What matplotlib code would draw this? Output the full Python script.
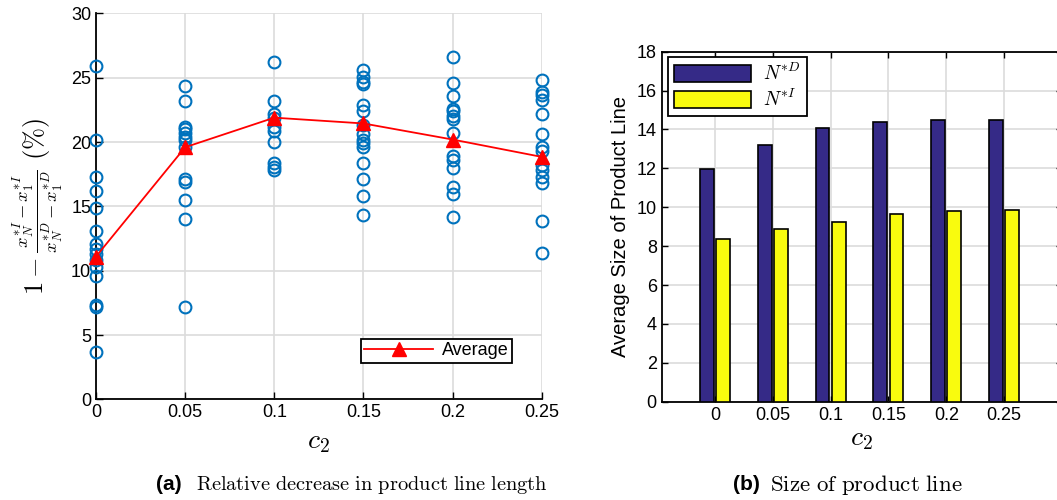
import numpy as np
import matplotlib
matplotlib.use('Agg')
import matplotlib.pyplot as plt

plt.rcParams['font.family'] = ['Liberation Sans', 'DejaVu Sans']
plt.rcParams['mathtext.fontset'] = 'cm'

# c2 values and the per-run relative decrease (%) at each one
c2 = [0, 0.05, 0.1, 0.15, 0.2, 0.25]
runs_0 = [25.9, 20.2, 17.3, 16.2, 14.9, 13.1, 12.1, 11.7, 11.3, 10.8, 10.3, 9.6, 7.3, 7.2, 3.7]
runs_005 = [24.4, 23.2, 21.2, 21.0, 20.7, 20.4, 20.2, 19.6, 17.1, 16.9, 15.5, 14.0, 7.2]
runs_01 = [26.2, 23.2, 22.2, 21.9, 21.2, 20.9, 20.0, 18.4, 18.1, 17.8]
runs_015 = [25.6, 25.1, 24.7, 24.5, 22.9, 22.4, 21.3, 20.6, 20.2, 19.9, 19.6, 18.4, 17.1, 15.8, 14.3]
runs_02 = [26.6, 24.6, 23.6, 22.6, 22.4, 22.0, 21.8, 20.7, 18.9, 18.6, 18.0, 16.5, 16.0, 14.2]
runs_025 = [24.8, 23.9, 23.7, 23.3, 22.2, 20.6, 19.6, 19.3, 18.2, 17.8, 17.3, 16.8, 13.9, 11.4]
runs = [runs_0, runs_005, runs_01, runs_015, runs_02, runs_025]
average = [11.1, 19.6, 21.9, 21.45, 20.2, 18.85]

# average product line size per c2
tick_labels = ['0', '0.05', '0.1', '0.15', '0.2', '0.25']
n_d = [11.95, 13.2, 14.06, 14.4, 14.47, 14.47]
n_i = [8.35, 8.88, 9.26, 9.67, 9.81, 9.88]

W, H = 1057, 500
fig = plt.figure(figsize=(W / 100, H / 100), dpi=100)

def box(l, t, r, b):
    return [l / W, 1 - b / H, (r - l) / W, (b - t) / H]

grid_c = '#dcdcdc'

# (a) scatter of runs + average line
ax1 = fig.add_axes(box(96, 13.5, 541.7, 399.3))
for x, ys in zip(c2, runs):
    ax1.plot([x] * len(ys), ys, 'o', mfc='none', mec='#0072BD', ms=8.5, mew=1.5,
             linestyle='none', clip_on=False, zorder=3)
ax1.plot(c2, average, '-^', color='red', ms=10, lw=1.3, label='Average',
         clip_on=False, zorder=4)
ax1.set_xlim(0, 0.25)
ax1.set_ylim(0, 30)
ax1.set_xticks(c2)
ax1.set_xticklabels(tick_labels)
ax1.set_yticks(np.arange(0, 31, 5))
ax1.grid(True, color=grid_c, lw=1.2)
ax1.set_axisbelow(True)
for s in ['top', 'right']:
    ax1.spines[s].set_visible(False)
for s in ['left', 'bottom']:
    ax1.spines[s].set_linewidth(1.3)
ax1.tick_params(direction='in', labelsize=13, length=5, width=1)
ax1.set_xlabel(r'$c_2$', fontsize=20, labelpad=6)
ax1.set_ylabel(r'$1 - \frac{x_N^{*I} - x_1^{*I}}{x_N^{*D} - x_1^{*D}}\ (\%)$',
               fontsize=19, labelpad=4)
leg1 = ax1.legend(loc='lower right', bbox_to_anchor=(0.934, 0.094), fontsize=13,
                  fancybox=False, edgecolor='black', framealpha=1,
                  handlelength=3.8, borderpad=0.2, handletextpad=0.5,
                  borderaxespad=0)
leg1.get_frame().set_linewidth(1.3)

# (b) grouped bars
ax2 = fig.add_axes(box(661.7, 51.7, 1062, 401.7))
pos = np.arange(len(tick_labels))
ax2.bar(pos - 0.14, n_d, width=0.24, color='#352a87', edgecolor='black', lw=1.2,
        label=r'$N^{*D}$', zorder=3)
ax2.bar(pos + 0.14, n_i, width=0.24, color='#f9fb0e', edgecolor='black', lw=1.2,
        label=r'$N^{*I}$', zorder=3)
ax2.set_xlim(-0.92, 6.0)
ax2.set_ylim(0, 18)
ax2.set_xticks(pos)
ax2.set_xticklabels(tick_labels)
ax2.set_yticks(np.arange(0, 19, 2))
ax2.grid(True, color=grid_c, lw=1.2)
ax2.set_axisbelow(True)
ax2.tick_params(direction='in', labelsize=13, length=4, width=1,
                top=True, right=True)
for s in ax2.spines.values():
    s.set_linewidth(1.3)
ax2.set_xlabel(r'$c_2$', fontsize=20, labelpad=2)
ax2.set_ylabel('Average Size of Product Line', fontsize=14.5, labelpad=5)
leg2 = ax2.legend(loc='upper left', bbox_to_anchor=(0.015, 0.985), fontsize=14,
                  fancybox=False, edgecolor='black', framealpha=1,
                  handlelength=4.0, handleheight=1.0, borderpad=0.3,
                  handletextpad=0.6, labelspacing=0.25, borderaxespad=0)
leg2.get_frame().set_linewidth(1.3)

# captions
fig.text(156 / W, 1 - 485 / H, '(a)', fontsize=15, fontweight='bold', va='center')
fig.text(196 / W, 1 - 485 / H, r'$\mathrm{Relative\ decrease\ in\ product\ line\ length}$',
         fontsize=14.7, va='center')
fig.text(733 / W, 1 - 485 / H, '(b)', fontsize=15, fontweight='bold', va='center')
fig.text(770 / W, 1 - 485 / H, r'$\mathrm{Size\ of\ product\ line}$',
         fontsize=16.5, va='center')

fig.savefig('out.png', dpi=100)
